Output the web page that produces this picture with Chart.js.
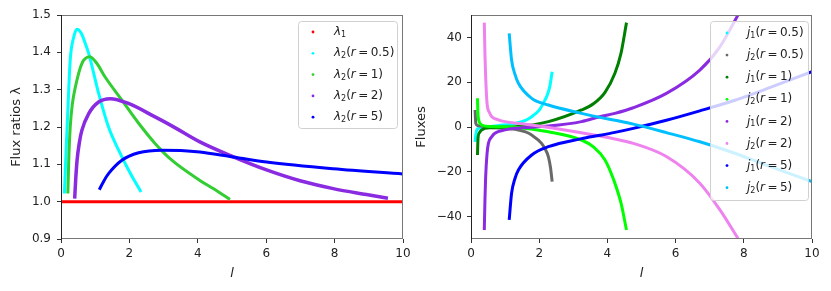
<!DOCTYPE html>
<html>
<head>
<meta charset="utf-8">
<script src="https://cdn.jsdelivr.net/npm/chart.js@4.4.1/dist/chart.umd.min.js"></script>
<style>
  html, body { margin: 0; padding: 0; background: #fff; }
  #wrap { position: relative; width: 831px; height: 291px; }
  #left { position: absolute; left: 0; top: 0; }
  #right { position: absolute; left: 415px; top: 0; }
</style>
</head>
<body>
<div id="wrap">
  <canvas id="left" width="415" height="291"></canvas>
  <canvas id="right" width="416" height="291"></canvas>
</div>
<script>
// ---- left panel: flux ratios ----
const lam1X = [0.03, 10];
const lam1Y = [1.0, 1.0];
const lamR05X = [0.10, 0.145, 0.20, 0.27, 0.37, 0.47, 0.6, 0.71, 0.81, 1.10, 1.39, 1.78, 2.05, 2.34];
const lamR05Y = [1.022, 1.129, 1.245, 1.38, 1.44, 1.462, 1.45, 1.424, 1.397, 1.29, 1.20, 1.12, 1.072, 1.026];
const lamR1X = [0.20, 0.23, 0.27, 0.33, 0.42, 0.61, 0.84, 1.05, 1.29, 1.78, 2.27, 2.75, 3.24, 4.06, 4.45, 4.94];
const lamR1Y = [1.022, 1.12, 1.20, 1.26, 1.307, 1.37, 1.388, 1.37, 1.334, 1.272, 1.21, 1.156, 1.111, 1.057, 1.035, 1.006];
const lamR2X = [0.40, 0.43, 0.47, 0.54, 0.61, 0.81, 1.10, 1.44, 1.97, 2.75, 3.24, 4.06, 5.04, 6.01, 6.99, 7.96, 8.93, 9.56];
const lamR2Y = [1.008, 1.06, 1.111, 1.16, 1.191, 1.236, 1.267, 1.276, 1.263, 1.227, 1.203, 1.160, 1.120, 1.085, 1.056, 1.035, 1.019, 1.009];
const lamR5X = [1.12, 1.25, 1.39, 1.78, 2.27, 2.95, 3.5, 4.06, 4.94, 6.01, 7.96, 10];
const lamR5Y = [1.032, 1.055, 1.075, 1.111, 1.131, 1.138, 1.137, 1.133, 1.121, 1.106, 1.088, 1.074];

// ---- right panel: fluxes ----
const j1R05X = [0.12, 0.14, 0.17, 0.25, 0.41, 0.8, 1.29, 1.6, 1.78, 2.0, 2.12, 2.23, 2.31, 2.38];
const j1R05Y = [-6.6, -3.5, -1.3, -0.5, -0.1, 0.6, 1.6, 3.0, 4.6, 7.5, 10.6, 14, 18.0, 24.7];
const j2R05X = [0.12, 0.13, 0.14, 0.2, 0.41, 0.8, 1.29, 1.6, 1.78, 2.07, 2.18, 2.27, 2.33, 2.38];
const j2R05Y = [7.6, 4, 1.6, 0.6, 0.1, -0.5, -1.0, -2.2, -3.6, -7.3, -10, -13.3, -18, -24.4];
const j1R1X = [0.19, 0.20, 0.21, 0.25, 0.31, 0.6, 1.29, 2.27, 3.24, 3.6, 3.93, 4.22, 4.4, 4.56];
const j1R1Y = [-12.5, -7, -4.3, -2.5, -1.3, -0.3, 0.1, 2.4, 7.6, 10.5, 15.5, 24, 33, 46.6];
const j2R1X = [0.19, 0.20, 0.21, 0.25, 0.31, 0.6, 1.29, 2.27, 3.24, 3.6, 3.93, 4.17, 4.4, 4.56];
const j2R1Y = [12.8, 7, 4.6, 2, 0.9, 0.2, -0.1, -2.1, -5.8, -9, -14.7, -23, -34, -46];
const j1R2X = [0.39, 0.41, 0.43, 0.47, 0.51, 0.6, 0.70, 1.0, 1.29, 2.27, 3.24, 3.78, 4.22, 4.76, 5.73, 6.71, 7.30, 7.83];
const j1R2Y = [-46, -32, -22.2, -12, -7.3, -4.5, -2.8, -1.3, -0.6, 0.4, 2.4, 4.6, 6.1, 8.6, 15.0, 25.4, 35.8, 50];
const j2R2X = [0.39, 0.41, 0.43, 0.47, 0.54, 0.61, 0.8, 1.0, 1.78, 2.75, 3.78, 4.12, 4.76, 5.73, 6.71, 7.30, 7.83];
const j2R2Y = [46.6, 32, 22.5, 10.6, 6.5, 4.6, 3.2, 2.4, 0.9, -1.3, -4.0, -5.0, -7.3, -13.2, -25.1, -37, -49.7];
const j1R5X = [1.12, 1.19, 1.29, 1.39, 1.78, 2.27, 3.24, 3.78, 4.22, 4.76, 5.73, 6.71, 7.69, 8.66, 10];
const j1R5Y = [-41.5, -29.6, -23, -19.2, -12.5, -8.8, -5.2, -3.7, -2.4, -0.6, 3.0, 7.2, 11.7, 17.0, 24.7];
const j2R5X = [1.12, 1.19, 1.29, 1.39, 1.78, 2.27, 3.24, 3.78, 4.22, 4.76, 5.73, 6.71, 7.69, 8.66, 10];
const j2R5Y = [41.8, 29.9, 23.5, 19.5, 12.8, 9.8, 6.1, 4.3, 3.0, 1.3, -2.5, -6.6, -11.5, -17, -24.4];

// tick values
const xTicks = [0, 2, 4, 6, 8, 10];
const leftYTicks = [0.9, 1.0, 1.1, 1.2, 1.3, 1.4, 1.5];
const rightYTicks = [-40, -20, 0, 20, 40];

const FONT = "'DejaVu Sans', sans-serif";
const THIN = "\u2009";

function pts(xs, ys) {
  return xs.map((x, i) => ({ x: x, y: ys[i] }));
}

// legend label pieces: [text, style] style: i = italic, s = subscript
function lamLabel(sub, r) {
  const p = [["λ", "i"], [sub, "s"]];
  if (r) p.push(["(", ""], ["r", "i"], [THIN + "=" + THIN + r + ")", ""]);
  return p;
}
function jLabel(sub, r) {
  return [["j", "i"], [sub, "s"], ["(", ""], ["r", "i"], [THIN + "=" + THIN + r + ")", ""]];
}

function drawPieces(ctx, pieces, x, y, size) {
  ctx.textBaseline = "middle";
  ctx.textAlign = "left";
  ctx.fillStyle = "#222";
  pieces.forEach(([t, st]) => {
    if (st === "s") {
      ctx.font = Math.round(size * 0.7) + "px " + FONT;
      ctx.fillText(t, x, y + 3);
    } else {
      ctx.font = (st === "i" ? "italic " : "") + size + "px " + FONT;
      ctx.fillText(t, x, y);
    }
    x += ctx.measureText(t).width;
  });
}

// frame, axis titles and a matplotlib-like legend drawn over the data
const framePlugin = {
  id: "frame",
  afterDatasetsDraw(chart, args, opts) {
    const ctx = chart.ctx;
    const a = chart.chartArea;
    ctx.save();
    ctx.lineWidth = 1;
    ctx.strokeStyle = "#777";
    ctx.beginPath();
    ctx.moveTo(a.left, a.top + 0.5); ctx.lineTo(a.right, a.top + 0.5);
    ctx.moveTo(a.right - 0.5, a.top); ctx.lineTo(a.right - 0.5, a.bottom);
    ctx.moveTo(a.left, a.bottom - 0.5); ctx.lineTo(a.right, a.bottom - 0.5);
    ctx.stroke();
    ctx.strokeStyle = "#222";
    ctx.beginPath();
    ctx.moveTo(a.left + 0.5, a.top); ctx.lineTo(a.left + 0.5, a.bottom);
    ctx.stroke();

    // legend box
    const L = opts.legend;
    ctx.fillStyle = "rgba(255,255,255,0.8)";
    ctx.strokeStyle = "#d0d0d0";
    ctx.beginPath();
    ctx.roundRect(L.x, L.y, L.w, L.h, 3);
    ctx.fill();
    ctx.stroke();
    L.items.forEach((it, i) => {
      const yy = L.firstRow + i * L.step;
      ctx.fillStyle = it.color;
      ctx.beginPath();
      ctx.arc(L.markX, yy, 1.4, 0, Math.PI * 2);
      ctx.fill();
      drawPieces(ctx, it.label, L.textX, yy, 12);
    });

    // axis titles
    ctx.fillStyle = "#222";
    ctx.textAlign = "center";
    ctx.textBaseline = "middle";
    ctx.font = "italic 13px " + FONT;
    ctx.fillText("l", (a.left + a.right) / 2, 274);
    ctx.save();
    ctx.translate(opts.yTitleX, (a.top + a.bottom) / 2);
    ctx.rotate(-Math.PI / 2);
    ctx.font = "13px " + FONT;
    ctx.fillText(opts.yTitle, 0, 0);
    ctx.restore();
    ctx.restore();
  }
};

function makeDatasets(list) {
  return list.map((d, i) => ({
    label: d.name,
    data: pts(d.x, d.y),
    showLine: true,
    borderColor: d.color,
    backgroundColor: d.color,
    borderWidth: d.w || 3,
    pointRadius: 0,
    cubicInterpolationMode: "monotone",
    order: list.length - i
  }));
}

function makeChart(id, list, yOpts, yTicks, padRight, yWidth, pluginOpts) {
  return new Chart(document.getElementById(id), {
    type: "scatter",
    data: { datasets: makeDatasets(list) },
    options: {
      responsive: false,
      animation: false,
      layout: { padding: { top: 15, right: padRight, left: 0, bottom: 0 } },
      plugins: { legend: { display: false }, tooltip: { enabled: false }, frame: pluginOpts },
      scales: {
        x: {
          type: "linear", min: 0, max: 10,
          afterFit: (s) => { s.height = 52; },
          afterBuildTicks: (s) => { s.ticks = xTicks.map((v) => ({ value: v })); },
          border: { display: false },
          grid: { drawOnChartArea: false, drawTicks: true, tickLength: 4, color: "#333" },
          ticks: { padding: 4, color: "#222", font: { family: FONT, size: 12 } }
        },
        y: Object.assign({
          type: "linear",
          afterFit: (s) => { s.width = yWidth; },
          afterBuildTicks: (s) => { s.ticks = yTicks.map((v) => ({ value: v })); },
          border: { display: false },
          grid: { drawOnChartArea: false, drawTicks: true, tickLength: 4, color: "#333" }
        }, yOpts)
      }
    },
    plugins: [framePlugin]
  });
}

const leftSeries = [
  { name: "λ1", x: lam1X, y: lam1Y, color: "#ff0000" },
  { name: "λ2(r=0.5)", x: lamR05X, y: lamR05Y, color: "#00ffff" },
  { name: "λ2(r=1)", x: lamR1X, y: lamR1Y, color: "#32cd32" },
  { name: "λ2(r=2)", x: lamR2X, y: lamR2Y, color: "#8a2be2", w: 3.5 },
  { name: "λ2(r=5)", x: lamR5X, y: lamR5Y, color: "#0000ff" }
];

const rightSeries = [
  { name: "j1(r=0.5)", x: j1R05X, y: j1R05Y, color: "#00ffff" },
  { name: "j2(r=0.5)", x: j2R05X, y: j2R05Y, color: "#696969" },
  { name: "j1(r=1)", x: j1R1X, y: j1R1Y, color: "#008000" },
  { name: "j2(r=1)", x: j2R1X, y: j2R1Y, color: "#00ff00" },
  { name: "j1(r=2)", x: j1R2X, y: j1R2Y, color: "#8a2be2" },
  { name: "j2(r=2)", x: j2R2X, y: j2R2Y, color: "#ee82ee" },
  { name: "j1(r=5)", x: j1R5X, y: j1R5Y, color: "#0000ff" },
  { name: "j2(r=5)", x: j2R5X, y: j2R5Y, color: "#00bfff" }
];

const leftLabels = [lamLabel("1"), lamLabel("2", "0.5"), lamLabel("2", "1"), lamLabel("2", "2"), lamLabel("2", "5")];
const rightLabels = [jLabel("1", "0.5"), jLabel("2", "0.5"), jLabel("1", "1"), jLabel("2", "1"),
                     jLabel("1", "2"), jLabel("2", "2"), jLabel("1", "5"), jLabel("2", "5")];

makeChart("left", leftSeries, {
  min: 0.9, max: 1.5,
  ticks: { padding: 6, color: "#222", font: { family: FONT, size: 12 },
           callback: (v) => v.toFixed(1) }
}, leftYTicks, 12, 61, {
  yTitle: "Flux ratios λ", yTitleX: 17,
  legend: { x: 298.5, y: 21.5, w: 99, h: 107, markX: 313, textX: 334, firstRow: 32, step: 21.3,
            items: leftSeries.map((s, i) => ({ color: s.color, label: leftLabels[i] })) }
});

makeChart("right", rightSeries, {
  min: -50, max: 50,
  ticks: { padding: 5, color: "#222", font: { family: FONT, size: 12 },
           callback: (v) => (v < 0 ? "\u2212" + Math.abs(v) : String(v)) }
}, rightYTicks, 19, 56, {
  yTitle: "Fluxes", yTitleX: 7,
  legend: { x: 295.5, y: 21.5, w: 98, h: 179, markX: 312, textX: 332, firstRow: 33, step: 22.1,
            items: rightSeries.map((s, i) => ({ color: s.color, label: rightLabels[i] })) }
});
</script>
</body>
</html>
